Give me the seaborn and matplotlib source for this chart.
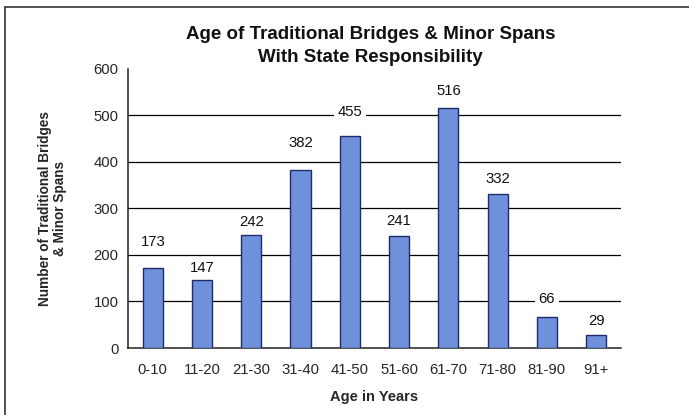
import matplotlib
matplotlib.use("Agg")
import matplotlib.pyplot as plt
from matplotlib.lines import Line2D
import seaborn as sns
import pandas as pd

# Age groups and bridge counts
age_groups = ["0-10", "11-20", "21-30", "31-40", "41-50",
              "51-60", "61-70", "71-80", "81-90", "91+"]
bridge_counts = [173, 147, 242, 382, 455, 241, 516, 332, 66, 29]
y_ticks = [0, 100, 200, 300, 400, 500, 600]

# Vertical placement of each value label above its bar (pixels)
label_lift_px = [26, 12, 13, 27, 24, 15, 17, 15, 18, 14]

sns.set_style("white")
plt.rcParams["font.family"] = ["Liberation Sans", "DejaVu Sans"]

df = pd.DataFrame({"age": age_groups, "count": bridge_counts})

fig = plt.figure(figsize=(6.89, 4.15), dpi=100)
ax = fig.add_axes([0.186, 0.1614, 0.715, 0.6727])

bar_color = "#6f91dc"
sns.barplot(data=df, x="age", y="count", color=bar_color, width=0.41,
            edgecolor="#1f2a66", linewidth=1.0, saturation=1, ax=ax, zorder=3)

ax.set_xlim(-0.5, len(age_groups) - 0.5)
ax.set_ylim(0, 600)
ax.set_yticks(y_ticks)
for y in y_ticks[1:-1]:
    ax.axhline(y, color="black", linewidth=0.9, zorder=1)

# category boundary ticks on the x axis
ax.set_xticks(range(len(age_groups)))
ax.set_xticklabels(age_groups, fontsize=10.7)
ax.tick_params(axis="x", length=0, pad=11)
ax.set_xticks([i - 0.5 for i in range(len(age_groups) + 1)], minor=True)
ax.tick_params(axis="x", which="minor", length=4, width=1, color="#222222", direction="out")
ax.tick_params(axis="y", length=4, width=1, color="#222222", direction="out",
               labelsize=10.7, pad=3)

for side in ("top", "right"):
    ax.spines[side].set_visible(False)
for side in ("left", "bottom"):
    ax.spines[side].set_color("#222222")
    ax.spines[side].set_linewidth(1.1)

# value labels with white backing that interrupts the grid lines
for i, (v, lift) in enumerate(zip(bridge_counts, label_lift_px)):
    ax.annotate(str(v), xy=(i, v), xytext=(0, lift * 0.72),
                textcoords="offset points", ha="center", va="center",
                fontsize=10.7, color="#111111", zorder=5,
                bbox=dict(boxstyle="square,pad=0.25", fc="white", ec="none"))

ax.set_xlabel("Age in Years", fontsize=10.5, fontweight="bold", labelpad=9)
ax.set_ylabel("Number of Traditional Bridges\n& Minor Spans", fontsize=9.8,
              fontweight="bold", labelpad=19, linespacing=1.1)

fig.text(0.538, 0.890, "Age of Traditional Bridges & Minor Spans\nWith State Responsibility",
         ha="center", va="center", fontsize=13.5, fontweight="bold",
         linespacing=1.45, color="#111111")

# frame lines along the top and left edges
fig.add_artist(Line2D([5 / 689, 1.0], [1 - 7 / 415, 1 - 7 / 415],
                      transform=fig.transFigure, color="#333333", linewidth=1.2))
fig.add_artist(Line2D([5 / 689, 5 / 689], [0, 1 - 7 / 415],
                      transform=fig.transFigure, color="#333333", linewidth=1.2))

fig.savefig("out.png", dpi=100, facecolor="white")
